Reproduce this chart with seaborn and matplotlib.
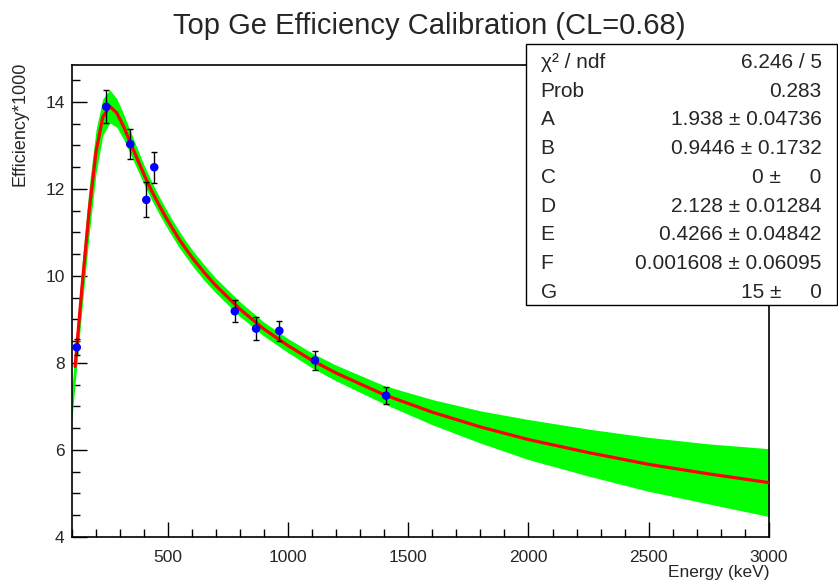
import matplotlib
matplotlib.use("Agg")
import matplotlib.pyplot as plt
import numpy as np
import pandas as pd
import seaborn as sns
from matplotlib.ticker import MultipleLocator
from matplotlib.patches import Rectangle

# ---- data ----
energy = [121.8, 244.7, 344.3, 411.1, 444.0, 778.9, 867.4, 964.1, 1112.1, 1408.0]
eff = [8.36, 13.89, 13.03, 11.75, 12.50, 9.19, 8.79, 8.74, 8.06, 7.25]
eff_err = [0.18, 0.375, 0.35, 0.40, 0.36, 0.25, 0.26, 0.23, 0.22, 0.19]

fit_energy = [100, 115, 144, 173, 202, 230, 259, 288, 317, 346, 375, 404, 432,
              461, 490, 519, 548, 577, 606, 650, 700, 800, 900, 1000, 1100,
              1200, 1400, 1600, 1800, 2000, 2250, 2500, 2750, 3000]
fit_eff = [6.94, 7.92, 9.77, 11.48, 12.86, 13.65, 13.90, 13.75, 13.43, 13.05,
           12.67, 12.30, 11.97, 11.66, 11.37, 11.10, 10.84, 10.61, 10.39, 10.09,
           9.78, 9.24, 8.78, 8.40, 8.06, 7.77, 7.27, 6.87, 6.53, 6.24, 5.94,
           5.67, 5.45, 5.25]
band_halfwidth = [0.33, 0.40, 0.50, 0.55, 0.50, 0.42, 0.38, 0.33, 0.29, 0.26,
                  0.24, 0.22, 0.21, 0.20, 0.20, 0.19, 0.19, 0.18, 0.18, 0.18,
                  0.17, 0.17, 0.16, 0.16, 0.17, 0.18, 0.21, 0.29, 0.37, 0.46,
                  0.54, 0.62, 0.69, 0.78]
fit_line_start = 115

x_ticks = [500, 1000, 1500, 2000, 2500, 3000]
y_ticks = [4, 6, 8, 10, 12, 14]

stats_names = ["χ² / ndf", "Prob", "A", "B", "C", "D", "E", "F", "G"]
stats_values = ["6.246 / 5", "0.283", "1.938 ± 0.04736", "0.9446 ± 0.1732",
                "0 ±     0", "2.128 ± 0.01284", "0.4266 ± 0.04842",
                "0.001608 ± 0.06095", "15 ±     0"]

title = "Top Ge Efficiency Calibration (CL=0.68)"
x_label = "Energy (keV)"
y_label = "Efficiency*1000"

# ---- style ----
sns.set_style("white")
plt.rcParams['font.family'] = ['Liberation Sans', 'DejaVu Sans']

W, H = 838, 581
fig = plt.figure(figsize=(W / 100, H / 100), dpi=100)
L, R, B, T = 71.5, 769, 537, 65
ax = fig.add_axes([L / W, 1 - B / H, (R - L) / W, (B - T) / H])

fit_df = pd.DataFrame({"Energy": fit_energy, "Eff": fit_eff, "hw": band_halfwidth})
ax.fill_between(fit_df["Energy"], fit_df["Eff"] - fit_df["hw"],
                fit_df["Eff"] + fit_df["hw"], color=(0, 1, 0), lw=0, zorder=1)
line_df = fit_df[fit_df["Energy"] >= fit_line_start]
sns.lineplot(data=line_df, x="Energy", y="Eff", color=(1, 0, 0), lw=2.3,
             ax=ax, zorder=3, sort=False, estimator=None)

ax.errorbar(energy, eff, yerr=eff_err, fmt='none', ecolor='black',
            elinewidth=1.0, capsize=2.5, capthick=1.0, zorder=4)
pts = pd.DataFrame({"Energy": energy, "Eff": eff})
sns.scatterplot(data=pts, x="Energy", y="Eff", color=(0, 0, 1), s=38,
                edgecolor='none', ax=ax, zorder=5)

ax.set_xlim(100, 3000)
ax.set_ylim(4, 14.85)
ax.set_xticks(x_ticks)
ax.set_yticks(y_ticks)
ax.xaxis.set_minor_locator(MultipleLocator(100))
ax.yaxis.set_minor_locator(MultipleLocator(0.5))
ax.tick_params(axis='both', which='both', direction='in', top=False, right=False,
               bottom=True, left=True, color='black', width=1.0, labelsize=12.5)
ax.tick_params(axis='both', which='major', length=11)
ax.tick_params(axis='both', which='minor', length=5.5)
ax.tick_params(axis='x', which='major', pad=9)
ax.tick_params(axis='y', which='major', pad=5)
ax.set_xlabel("")
ax.set_ylabel("")
for sp in ax.spines.values():
    sp.set_color('black')
    sp.set_linewidth(1.2)

fig.text(429.5 / W, 1 - 26 / H, title, ha='center', va='center', fontsize=21)
fig.text(R / W, 1 - 573 / H, x_label, ha='right', va='center', fontsize=12.5)
fig.text(20 / W, 1 - 62 / H, y_label, rotation=90, ha='center', va='top', fontsize=13)

# stats box
bx0, bx1, by0, by1 = 526, 837, 44, 305
fig.add_artist(Rectangle((bx0 / W, 1 - by1 / H), (bx1 - bx0) / W, (by1 - by0) / H,
                         transform=fig.transFigure, facecolor='white',
                         edgecolor='black', lw=1.0, zorder=10))
row0, step = 60.5, 28.7
for i, (n, v) in enumerate(zip(stats_names, stats_values)):
    yy = 1 - (row0 + i * step) / H
    fig.text(540.7 / W, yy, n, ha='left', va='center_baseline', fontsize=15, zorder=11)
    fig.text(821.7 / W, yy, v, ha='right', va='center_baseline', fontsize=15, zorder=11)

fig.savefig("out.png", dpi=100)
